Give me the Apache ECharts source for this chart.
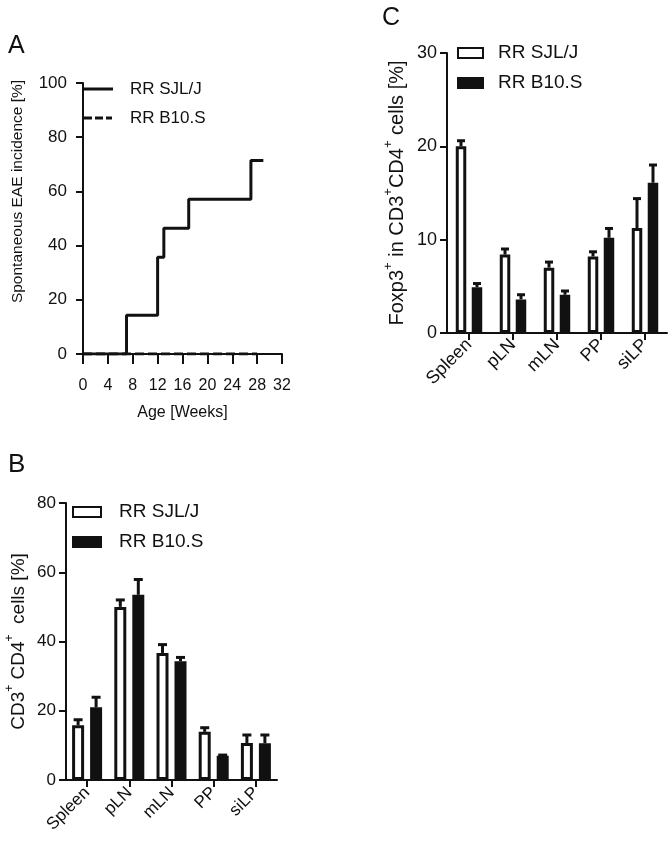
<!DOCTYPE html>
<html>
<head>
<meta charset="utf-8">
<script src="https://cdn.jsdelivr.net/npm/echarts@6/dist/echarts.min.js"></script>
<style>
html,body{margin:0;padding:0;background:#fff;}
#c{width:672px;height:852px;}
</style>
</head>
<body>
<div id="c"></div>
<script>
// ---- Panel A: spontaneous EAE incidence (step curve)
const weeksSJL = [0, 7, 12, 13, 17, 27, 29];
const incSJL   = [0, 14.3, 35.7, 46.4, 57.1, 71.4, 71.4];
const weeksB10 = [0, 28];
const incB10   = [0, 0];
const ageTicks = [0, 4, 8, 12, 16, 20, 24, 28, 32];

// ---- Panels B and C: tissues
const tissues = ['Spleen', 'pLN', 'mLN', 'PP', 'siLP'];
// B: CD3+ CD4+ cells [%]
const cd4SJL    = [15.8, 50.0, 36.7, 13.9, 10.7];
const cd4SJLerr = [1.6, 2.0, 2.4, 1.2, 2.3];
const cd4B10    = [21.0, 53.5, 34.3, 7.0, 10.6];
const cd4B10err = [2.9, 4.4, 1.1, 0.2, 2.4];
// C: Foxp3+ in CD3+CD4+ cells [%]
const foxSJL    = [20.0, 8.4, 7.0, 8.2, 11.25];
const foxSJLerr = [0.6, 0.6, 0.6, 0.5, 3.15];
const foxB10    = [4.9, 3.6, 4.1, 10.2, 16.1];
const foxB10err = [0.4, 0.5, 0.4, 1.0, 1.9];

const legendNames = ['RR SJL/J', 'RR B10.S'];

const FONT = '"Liberation Sans", Arial, Helvetica, sans-serif';
const INK = '#111';

function zip(xs, ys) { return xs.map((x, i) => [x, ys[i]]); }

function errSeries(name, xi, yi, vals, errs, side, pairDist, capW) {
  return {
    name: name,
    type: 'custom',
    xAxisIndex: xi, yAxisIndex: yi,
    z: 10,
    silent: true,
    data: vals.map((v, i) => [i, v, errs[i]]),
    renderItem: function (params, api) {
      const base = api.coord([api.value(0), api.value(1)]);
      const top = api.coord([api.value(0), api.value(1) + api.value(2)]);
      const x = base[0] + side * pairDist / 2;
      const st = { stroke: INK, lineWidth: 3 };
      return {
        type: 'group',
        children: [
          { type: 'line', shape: { x1: x, y1: base[1], x2: x, y2: top[1] }, style: st },
          { type: 'line', shape: { x1: x - capW / 2, y1: top[1], x2: x + capW / 2, y2: top[1] }, style: st }
        ]
      };
    }
  };
}

function supName(parts, size, supSize) {
  return {
    fontSize: size, color: INK, fontFamily: FONT,
    rich: {
      n: { fontSize: size, color: INK, fontFamily: FONT, lineHeight: size + 5, verticalAlign: 'bottom' },
      s: { fontSize: supSize, color: INK, fontFamily: FONT, lineHeight: supSize + 2, verticalAlign: 'top' }
    }
  };
}

const axisLine = { show: true, lineStyle: { color: INK, width: 2 } };
const axisTickY = { show: true, length: 7, lineStyle: { color: INK, width: 2 } };

const solidIcon  = 'path://M0,0H30V3H0Z';
const dashedIcon = 'path://M0,0H8V3H0Z M11,0H19V3H11Z M22,0H28V3H22Z';

const chart = echarts.init(document.getElementById('c'), null, { renderer: 'canvas' });

const option = {
  backgroundColor: '#fff',
  animation: false,
  textStyle: { fontFamily: FONT },
  title: [
    { text: 'A', left: 3, top: 29, textStyle: { fontSize: 25, fontWeight: 'normal', color: INK, fontFamily: FONT } },
    { text: 'B', left: 3, top: 447, textStyle: { fontSize: 26, fontWeight: 'normal', color: INK, fontFamily: FONT } },
    { text: 'C', left: 377, top: 1, textStyle: { fontSize: 25, fontWeight: 'normal', color: INK, fontFamily: FONT } }
  ],
  grid: [
    { left: 83, right: 390, top: 83, bottom: 498 },
    { left: 66, right: 395, top: 503, bottom: 72 },
    { left: 447, right: 5, top: 53, bottom: 519 }
  ],
  legend: [
    {
      orient: 'vertical', left: 83, top: 79, padding: 0, itemGap: 9,
      itemWidth: 30, itemHeight: 3, selectedMode: false,
      data: [
        { name: 'aSJL', icon: solidIcon },
        { name: 'aB10', icon: dashedIcon }
      ],
      formatter: n => n === 'aSJL' ? legendNames[0] : legendNames[1],
      textStyle: { fontSize: 17, color: INK, fontFamily: FONT, lineHeight: 20, padding: [0, 0, 0, 12] }
    },
    {
      orient: 'vertical', left: 72, top: 502, padding: 0, itemGap: 10,
      itemWidth: 28, itemHeight: 10, selectedMode: false,
      data: [
        { name: 'bSJL', icon: 'rect' },
        { name: 'bB10', icon: 'rect' }
      ],
      formatter: n => n === 'bSJL' ? legendNames[0] : legendNames[1],
      textStyle: { fontSize: 19, color: INK, fontFamily: FONT, lineHeight: 20, padding: [0, 0, 0, 13] }
    },
    {
      orient: 'vertical', left: 457, top: 43, padding: 0, itemGap: 10,
      itemWidth: 25, itemHeight: 10, selectedMode: false,
      data: [
        { name: 'cSJL', icon: 'rect' },
        { name: 'cB10', icon: 'rect' }
      ],
      formatter: n => n === 'cSJL' ? legendNames[0] : legendNames[1],
      textStyle: { fontSize: 19, color: INK, fontFamily: FONT, lineHeight: 20, padding: [0, 0, 0, 10] }
    }
  ],
  xAxis: [
    {
      gridIndex: 0, type: 'value', min: ageTicks[0], max: ageTicks[ageTicks.length - 1], interval: 4,
      offset: 6,
      name: 'Age [Weeks]', nameLocation: 'middle', nameGap: 45,
      nameTextStyle: { fontSize: 16, color: INK, fontFamily: FONT },
      axisLine: axisLine,
      axisTick: { show: true, length: 10, lineStyle: { color: INK, width: 2 } },
      axisLabel: { fontSize: 16, color: INK, margin: 18, fontFamily: FONT },
      splitLine: { show: false }
    },
    {
      gridIndex: 1, type: 'category', data: tissues,
      axisLine: axisLine,
      axisTick: { show: true, alignWithLabel: true, length: 7, lineStyle: { color: INK, width: 2 } },
      axisLabel: { fontSize: 17, color: INK, rotate: 45, margin: 10, interval: 0, fontFamily: FONT },
      splitLine: { show: false }
    },
    {
      gridIndex: 2, type: 'category', data: tissues,
      axisLine: axisLine,
      axisTick: { show: true, alignWithLabel: true, length: 7, lineStyle: { color: INK, width: 2 } },
      axisLabel: { fontSize: 18, color: INK, rotate: 45, margin: 9, interval: 0, fontFamily: FONT },
      splitLine: { show: false }
    }
  ],
  yAxis: [
    {
      gridIndex: 0, type: 'value', min: 0, max: 100, interval: 20,
      offset: 6,
      name: 'Spontaneous EAE incidence [%]', nameLocation: 'middle', nameGap: 51,
      nameTextStyle: { fontSize: 15.5, color: INK, fontFamily: FONT, padding: [0, 0, 0, 54] },
      axisLine: axisLine, axisTick: axisTickY,
      axisLabel: { fontSize: 17, color: INK, margin: 10, fontFamily: FONT },
      splitLine: { show: false }
    },
    {
      gridIndex: 1, type: 'value', min: 0, max: 80, interval: 20,
      name: '{n|CD3}{s|+}{n| CD4}{s|+}{n|  cells [%]}', nameLocation: 'middle', nameGap: 38,
      nameTextStyle: supName(null, 19, 12),
      axisLine: axisLine, axisTick: axisTickY,
      axisLabel: { fontSize: 17, color: INK, margin: 10, fontFamily: FONT },
      splitLine: { show: false }
    },
    {
      gridIndex: 2, type: 'value', min: 0, max: 30, interval: 10,
      name: '{n|Foxp3}{s|+}{n| in CD3}{s|+}{n|CD4}{s|+}{n| cells [%]}', nameLocation: 'middle', nameGap: 40,
      nameTextStyle: supName(null, 20, 13),
      axisLine: axisLine, axisTick: axisTickY,
      axisLabel: { fontSize: 18, color: INK, margin: 10, fontFamily: FONT },
      splitLine: { show: false }
    }
  ],
  series: [
    // Panel A
    {
      name: 'aB10', type: 'line', xAxisIndex: 0, yAxisIndex: 0,
      data: zip(weeksB10, incB10), symbol: 'none', z: 2,
      lineStyle: { color: INK, width: 3, type: [9, 4] }, itemStyle: { color: INK }
    },
    {
      name: 'aSJL', type: 'line', xAxisIndex: 0, yAxisIndex: 0, step: 'end',
      data: zip(weeksSJL, incSJL), symbol: 'none', z: 3,
      lineStyle: { color: INK, width: 3 }, itemStyle: { color: INK }
    },
    // Panel B
    {
      name: 'bSJL', type: 'bar', xAxisIndex: 1, yAxisIndex: 1, data: cd4SJL,
      barWidth: 12, barGap: '50%',
      itemStyle: { color: '#fff', borderColor: INK, borderWidth: 3 }
    },
    {
      name: 'bB10', type: 'bar', xAxisIndex: 1, yAxisIndex: 1, data: cd4B10,
      barWidth: 12, barGap: '50%',
      itemStyle: { color: INK, borderColor: INK, borderWidth: 3 }
    },
    errSeries('bSJLerr', 1, 1, cd4SJL, cd4SJLerr, -1, 18, 9),
    errSeries('bB10err', 1, 1, cd4B10, cd4B10err, 1, 18, 9),
    // Panel C
    {
      name: 'cSJL', type: 'bar', xAxisIndex: 2, yAxisIndex: 2, data: foxSJL,
      barWidth: 10.5, barGap: '52%',
      itemStyle: { color: '#fff', borderColor: INK, borderWidth: 3 }
    },
    {
      name: 'cB10', type: 'bar', xAxisIndex: 2, yAxisIndex: 2, data: foxB10,
      barWidth: 10.5, barGap: '52%',
      itemStyle: { color: INK, borderColor: INK, borderWidth: 3 }
    },
    errSeries('cSJLerr', 2, 2, foxSJL, foxSJLerr, -1, 16, 8),
    errSeries('cB10err', 2, 2, foxB10, foxB10err, 1, 16, 8)
  ]
};

chart.setOption(option);
</script>
</body>
</html>
